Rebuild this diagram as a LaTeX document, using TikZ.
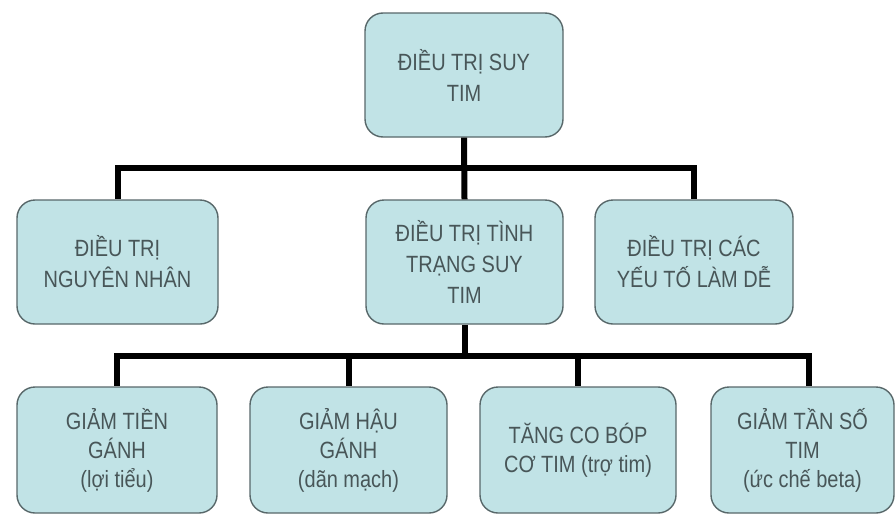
\documentclass[tikz,border=0pt]{standalone}
\usepackage{fontspec}
\setmainfont[FakeStretch=0.85]{Liberation Sans}
\definecolor{boxfill}{RGB}{193,227,230}
\definecolor{boxline}{RGB}{88,104,106}
\definecolor{boxtext}{RGB}{72,86,88}
\begin{document}
\begin{tikzpicture}[x=1pt,y=-1pt,
  box/.style={draw=boxline, line width=1.4pt, fill=boxfill, rounded corners=18pt,
    minimum height=124pt, align=center, text=boxtext,
    font=\fontsize{23.5}{31}\selectfont, inner sep=2pt},
  lowbox/.style={box, minimum height=126pt, font=\fontsize{23.5}{29}\selectfont},
  conn/.style={draw=black, line width=6pt}]
\useasboundingbox (0,0) rectangle (896,522);
\fill[white] (0,0) rectangle (896,522);
% top
\node[box, minimum width=198pt] (top) at (464,75) {ĐIỀU TRỊ SUY\\TIM};
% middle row
\node[box, minimum width=201pt] (m1) at (117.5,262) {ĐIỀU TRỊ\\NGUYÊN NHÂN};
\node[box, minimum width=197pt] (m2) at (464.5,262) {ĐIỀU TRỊ TÌNH\\TRẠNG SUY\\TIM};
\node[box, minimum width=198pt] (m3) at (694,262) {ĐIỀU TRỊ CÁC\\YẾU TỐ LÀM DỄ};
% bottom row
\node[lowbox, minimum width=200pt] (g1) at (117,450) {GIẢM TIỀN\\GÁNH\\(lợi tiểu)};
\node[lowbox, minimum width=197pt] (g2) at (348.5,450) {GIẢM HẬU\\GÁNH\\(dãn mạch)};
\node[lowbox, minimum width=196pt] (g3) at (578,450) {TĂNG CO BÓP\\CƠ TIM (trợ tim)};
\node[lowbox, minimum width=183pt] (g4) at (802.5,450) {GIẢM TẦN SỐ\\TIM\\(ức chế beta)};
% bar levels
\coordinate (bar1) at (0,168);
\coordinate (bar2) at (0,356);
\coordinate (g4top) at ([xshift=6.5pt]g4.north);
% connectors level 1
\draw[conn] (top.south) -- (m2.north);
\draw[conn] (top.south |- bar1) -| (m1.north);
\draw[conn] (top.south |- bar1) -| (m3.north);
% connectors level 2
\draw[conn] (m2.south) -- (m2.south |- bar2);
\draw[conn] (m2.south |- bar2) -| (g1.north);
\draw[conn] (m2.south |- bar2) -| (g2.north);
\draw[conn] (m2.south |- bar2) -| (g3.north);
\draw[conn] (m2.south |- bar2) -| (g4top);
\end{tikzpicture}
\end{document}
